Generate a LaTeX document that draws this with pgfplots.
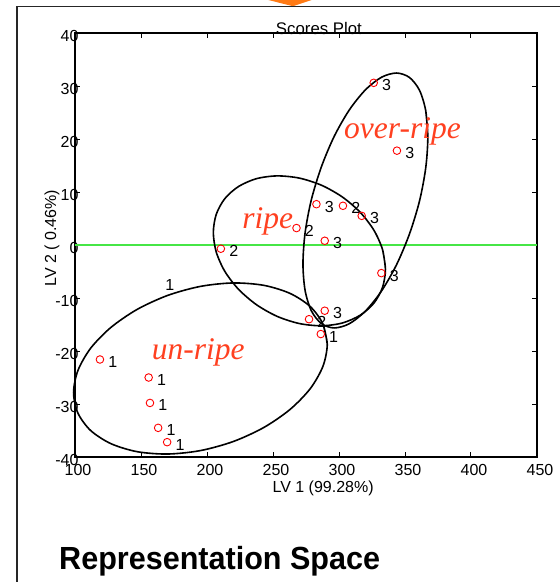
\documentclass[border=0pt]{standalone}
\usepackage{fontspec}
\setmainfont{Liberation Sans}
\newfontfamily\classfont{Liberation Serif}
\usepackage{graphicx}
\usepackage{pgfplots}
\pgfplotsset{compat=1.18}
\definecolor{classred}{RGB}{255,64,32}
\definecolor{linegreen}{RGB}{70,230,70}
\definecolor{arroworange}{RGB}{255,122,20}
\newcommand\lbl{\fontsize{16}{19}\selectfont}
\newcommand\ttl{\fontsize{16.8}{20}\selectfont}

\pgfplotstableread{
x y label
118.9 -21.6 1
155.8 -25.0 1
156.8 -29.8 1
163.0 -34.5 1
169.8 -37.2 1
286.2 -16.8 1
277.3 -14.0 2
289.2 -12.4 3
210.5 -0.7 2
267.8 3.2 2
303.0 7.4 2
282.9 7.7 3
317.2 5.5 3
289.2 0.8 3
332.1 -5.3 3
326.3 30.6 3
343.9 17.8 3
}\scores

\begin{document}
\begin{tikzpicture}
\useasboundingbox (0pt,0pt) rectangle (560pt,-582pt);
\fill[arroworange] (268.3pt,0pt) -- (311.7pt,0pt) -- (293pt,-6.2pt) -- cycle;
\draw[line width=1.2pt, black!85] (17pt,-583pt) -- (17pt,-6.7pt) -- (561pt,-6.7pt);
\begin{axis}[
  at={(75pt,-457pt)}, anchor=south west,
  scale only axis, width=462pt, height=424pt,
  xmin=100, xmax=450, ymin=-40, ymax=40,
  xtick={100,150,...,450}, ytick={-40,-30,...,40},
  tick align=inside, major tick length=5pt,
  axis line style={line width=1.4pt},
  every tick/.style={black, line width=1pt},
  /pgf/number format/assume math mode=true,
  tick label style={font=\lbl},
  xticklabel style={yshift=-4pt, xshift=3pt},
  yticklabel style={xshift=7pt, yshift=-3pt},
  clip=false,
  title={Scores Plot},
  xlabel={LV 1 (99.28\%)},
  ylabel={LV 2 ( 0.46\%)},
  every axis title/.style={at={(axis description cs:0.528,1.0118)}, anchor=center, font=\ttl},
  every axis x label/.style={at={(axis description cs:0.537,-0.0731)}, anchor=center, font=\lbl},
  every axis y label/.style={at={(axis description cs:-0.0498,0.5165)}, anchor=center, rotate=90, font=\lbl},
]
\addplot[linegreen, line width=1.2pt] coordinates {(100,0) (450,0)};

% un-ripe ellipse
\addplot[black, line width=1.6pt, smooth] coordinates {
(291.1,-18.75) (287.8,-14.89) (278.2,-11.61) (262.9,-9.13) (243.05,-7.61) (219.9,-7.16)
(195,-7.81) (170.1,-9.52) (146.95,-12.17) (127.1,-15.57) (111.8,-19.49) (102.2,-23.69)
(98.9,-27.85) (102.2,-31.71) (111.8,-34.99) (127.1,-37.47) (146.95,-38.99) (170.1,-39.44)
(195,-38.79) (219.9,-37.08) (243.05,-34.43) (262.9,-31.03) (278.2,-27.11) (287.8,-22.91)
(291.1,-18.75) (287.8,-14.89)
};
% ripe ellipse
\addplot[black, line width=1.6pt, smooth] coordinates {
(335.2,-4.55) (333.0,-0.88) (326.5,2.77) (316.1,6.16) (302.6,9.05) (286.9,11.26)
(270,12.62) (253.1,13.04) (237.4,12.51) (223.9,11.04) (213.5,8.75) (207.0,5.78)
(204.8,2.35) (207.0,-1.32) (213.5,-4.97) (223.9,-8.36) (237.4,-11.25) (253.1,-13.46)
(270,-14.82) (286.9,-15.24) (302.6,-14.71) (316.1,-13.24) (326.5,-10.95) (333.0,-7.98)
(335.2,-4.55) (333.0,-0.88)
};
% over-ripe ellipse
\addplot[black, line width=1.6pt, smooth] coordinates {
(367.3,20.35) (365.7,25.35) (361.0,29.19) (353.4,31.61) (343.65,32.45) (332.25,31.66)
(320,29.27) (307.75,25.46) (296.35,20.49) (286.6,14.71) (279.0,8.49) (274.3,2.27)
(272.7,-3.55) (274.3,-8.55) (279.0,-12.39) (286.6,-14.81) (296.35,-15.65) (307.75,-14.86)
(320,-12.47) (332.25,-8.66) (343.65,-3.69) (353.4,2.09) (361.0,8.31) (365.7,14.53)
(367.3,20.35) (365.7,25.35)
};

\addplot[only marks, mark=o, mark size=3.8pt, red, mark options={line width=0.9pt},
  nodes near coords, point meta=explicit symbolic,
  every node near coord/.append style={anchor=west, inner sep=0pt, xshift=8pt, yshift=-2.5pt, black, font=\lbl}]
  table[x=x, y=y, meta=label] {\scores};

\node[font=\lbl, inner sep=0pt] at (axis cs:171.9,-7.55) {1};

\node[anchor=base, inner sep=0pt, text=classred, font=\fontsize{31.5}{36}\selectfont\classfont\itshape] at (axis cs:193.3,-21.6) {un-ripe};
\node[anchor=base, inner sep=0pt, text=classred, font=\fontsize{31.5}{36}\selectfont\classfont\itshape] at (axis cs:246.1,3.15) {ripe};
\node[anchor=base, inner sep=0pt, text=classred, font=\fontsize{31.5}{36}\selectfont\classfont\itshape] at (axis cs:348.1,20.1) {over-ripe};
\end{axis}
\node[anchor=base west, inner sep=0pt, font=\fontsize{32}{36}\selectfont\bfseries] at (59pt,-569pt) {\scalebox{0.955}[1]{Representation Space}};
\end{tikzpicture}
\end{document}
